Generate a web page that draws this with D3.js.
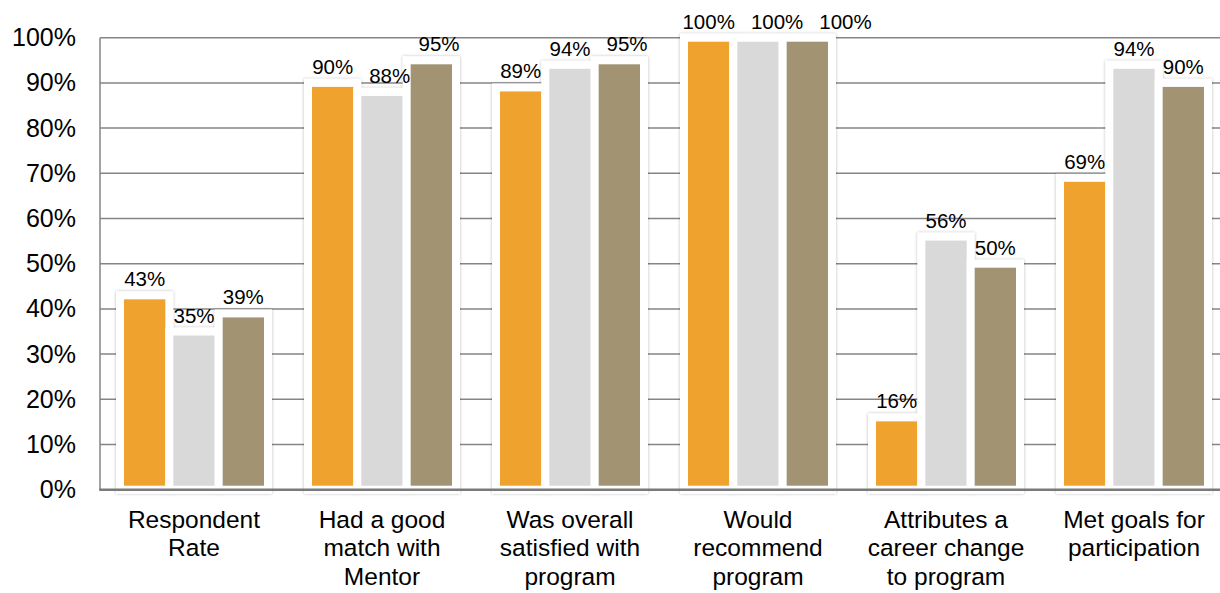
<!DOCTYPE html>
<html>
<head>
<meta charset="utf-8">
<script src="https://cdn.jsdelivr.net/npm/d3@7"></script>
<style>
  html, body { margin: 0; padding: 0; background: #fff; }
  svg { display: block; font-family: "Liberation Sans", Arial, Helvetica, sans-serif; }
</style>
</head>
<body>
<svg id="chart" width="1220" height="593"></svg>
<script>
// Survey outcome categories (each label split into its display lines)
const categories = [
  ["Respondent", "Rate"],
  ["Had a good", "match with", "Mentor"],
  ["Was overall", "satisfied with", "program"],
  ["Would", "recommend", "program"],
  ["Attributes a", "career change", "to program"],
  ["Met goals for", "participation"]
];

// Percentages for the three cohorts, one value per category
const cohortA = [43, 90, 89, 100, 16, 69];
const cohortB = [35, 88, 94, 100, 56, 94];
const cohortC = [39, 95, 95, 100, 50, 90];

const yTicks = [0, 10, 20, 30, 40, 50, 60, 70, 80, 90, 100];
const seriesColors = ["#EFA22F", "#D9D9D9", "#A29472"];

const series = [cohortA, cohortB, cohortC];
const catKeys = categories.map((c, i) => i);

const svg = d3.select("#chart");

const plotLeft = 100, plotRight = 1228, plotTop = 37.7, plotBottom = 489.7;

const x = d3.scaleBand().domain(catKeys).range([plotLeft, plotRight]).paddingInner(0).paddingOuter(0);
const y = d3.scaleLinear().domain([0, 100]).range([plotBottom, plotTop]);

// inner band for the three bars of each category
const groupPad = 20;
const xInner = d3.scaleBand()
  .domain(d3.range(series.length))
  .range([0, x.bandwidth() - 2 * groupPad])
  .padding(0);

// soft shadow around the white-framed bars
const defs = svg.append("defs");
const shadow = defs.append("filter").attr("id", "barShadow")
  .attr("x", "-20%").attr("y", "-20%").attr("width", "140%").attr("height", "140%");
shadow.append("feDropShadow")
  .attr("dx", 0).attr("dy", 0).attr("stdDeviation", 1.8)
  .attr("flood-color", "#000").attr("flood-opacity", 0.28);

// horizontal gridlines
svg.append("g")
  .selectAll("line")
  .data(yTicks.filter(t => t > 0))
  .join("line")
  .attr("x1", plotLeft).attr("x2", plotRight)
  .attr("y1", d => y(d)).attr("y2", d => y(d))
  .attr("stroke", "#858585").attr("stroke-width", 1.5);

// y axis labels
const yAxis = d3.axisLeft(y).tickValues(yTicks).tickSize(0).tickPadding(24)
  .tickFormat(d => d + "%");
const yG = svg.append("g").attr("transform", `translate(${plotLeft},0)`).call(yAxis);
yG.select(".domain").remove();
yG.selectAll("text")
  .attr("font-family", "\"Liberation Sans\", Arial, sans-serif")
  .attr("font-size", 25).attr("fill", "#000");

// bars
const groups = svg.append("g")
  .selectAll("g")
  .data(catKeys)
  .join("g")
  .attr("transform", d => `translate(${x(d) + groupPad},0)`)
  .attr("filter", "url(#barShadow)");

groups.selectAll("rect")
  .data(ci => series.map((s, si) => ({ si, v: s[ci] })))
  .join("rect")
  .attr("x", d => xInner(d.si))
  .attr("width", xInner.bandwidth())
  .attr("y", d => y(d.v))
  .attr("height", d => y(0) - y(d.v))
  .attr("fill", d => seriesColors[d.si])
  .attr("stroke", "#fff")
  .attr("stroke-width", 8);

// value labels; labels sitting at the same height are spread apart so they stay readable
const labels = svg.append("g");
const labelGap = 16;
catKeys.forEach(ci => {
  const row = series.map((s, si) => {
    const t = labels.append("text")
      .attr("y", y(s[ci]) - 9)
      .attr("text-anchor", "middle")
      .attr("font-size", 20.5)
      .attr("fill", "#000")
      .text(s[ci] + "%");
    return {
      t,
      cx: x(ci) + groupPad + xInner(si) + xInner.bandwidth() / 2,
      cy: y(s[ci]),
      w: t.node().getComputedTextLength()
    };
  });
  // push neighbours apart when they share a height and would collide
  for (let k = 1; k < row.length; k++) {
    const a = row[k - 1], b = row[k];
    if (Math.abs(a.cy - b.cy) < 18) {
      const need = (a.w + b.w) / 2 + labelGap - (b.cx - a.cx);
      if (need > 0) {
        for (let j = k; j < row.length; j++) row[j].cx += need;
      }
    }
  }
  row.forEach(r => r.t.attr("x", r.cx));
});

// axis lines
svg.append("line")
  .attr("x1", plotLeft).attr("x2", plotLeft)
  .attr("y1", plotTop).attr("y2", plotBottom)
  .attr("stroke", "#858585").attr("stroke-width", 1.5);
svg.append("line")
  .attr("x1", plotLeft - 0.75).attr("x2", plotRight)
  .attr("y1", plotBottom).attr("y2", plotBottom)
  .attr("stroke", "#7a7a7a").attr("stroke-width", 2.5);

// category labels
const catG = svg.append("g");
categories.forEach((lines, ci) => {
  const t = catG.append("text")
    .attr("x", x(ci) + x.bandwidth() / 2)
    .attr("y", 528)
    .attr("text-anchor", "middle")
    .attr("font-size", 24.5)
    .attr("fill", "#000");
  lines.forEach((ln, li) => {
    t.append("tspan")
      .attr("x", x(ci) + x.bandwidth() / 2)
      .attr("dy", li === 0 ? 0 : 28.4)
      .text(ln);
  });
});
</script>
</body>
</html>
